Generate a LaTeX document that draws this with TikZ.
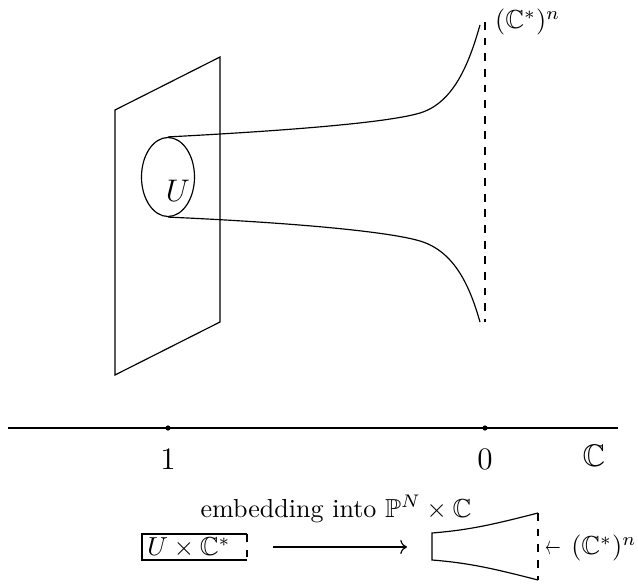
\documentclass[tikz,border=0pt]{standalone}
\usepackage{amsmath,amssymb}
\usetikzlibrary{arrows.meta,calc,shapes.geometric}
\tikzset{
  fibre/.style={line width=0.45pt},
  limit/.style={dashed, line width=0.45pt},
  pt/.style={circle, fill, inner sep=0pt, minimum size=2pt},
  lbl/.style={inner sep=1pt},
  big/.style={font=\large},
}

\begin{document}
\begin{tikzpicture}[x=0.384pt,y=-0.384pt]
\useasboundingbox (0,0) rectangle (638,584);
% plane with the open set U
\draw[fibre] (115,110) -- (220,57) -- (220,322) -- (115,375) -- cycle;
\node[draw, ellipse, minimum width=53*0.384pt, minimum height=79*0.384pt, inner sep=0pt, line width=0.45pt] (u) at (168,177) {};
\node[lbl, big] (ulbl) at (178,191) {$U$};
\coordinate (utop) at (u.north);
\coordinate (ubot) at (u.south);
\coordinate (ftop) at (480,25);
\coordinate (fbot) at (480,322);
\draw[fibre] (utop) .. controls (300,130) and (390,122) .. (420,113) .. controls (455,102.5) and (470,60) .. (ftop);
\draw[fibre] (ubot) .. controls (300,223) and (390,232) .. (420,241) .. controls (455,251.5) and (470,287) .. (fbot);
\draw[limit] (485,22) -- (485,322);
\node[lbl, anchor=west] (torus) at (492,22) {$(\mathbb{C}^*)^n$};
% base curve
\draw[fibre] (8,428) -- (618,428);
\node[pt] (one) at (168,428) {};
\node[pt] (zero) at (485,428) {};
\node[big] (onelbl) at (168,459) {$1$};
\node[big] (zerolbl) at (485,459) {$0$};
\node[big] (base) at (594,456) {$\mathbb{C}$};
% small picture
\node[anchor=base] (emb) at (336,517) {embedding into $\mathbb{P}^N\times\mathbb{C}$};
\node[lbl] (prod) at (189,548) {$U\times\mathbb{C}^*$};
\draw[fibre] (247,534) -- (142,534) -- (142,560) -- (247,560);
\draw[limit] (247,534) -- (247,560);
\coordinate (arrs) at (273,547);
\coordinate (arre) at (407,547);
\draw[fibre, ->] (arrs) -- (arre);
\draw[fibre] (538,513) .. controls (495,524) and (470,530) .. (432,533) -- (432,560) .. controls (470,563) and (495,569) .. (538,580);
\draw[limit] (538,513) -- (538,580);
\node[inner sep=0pt, anchor=east] (torus2) at (637,548) {\scalebox{0.6}[1]{$\leftarrow$}\hspace{4pt}$(\mathbb{C}^*)^n$};
\end{tikzpicture}
\end{document}
